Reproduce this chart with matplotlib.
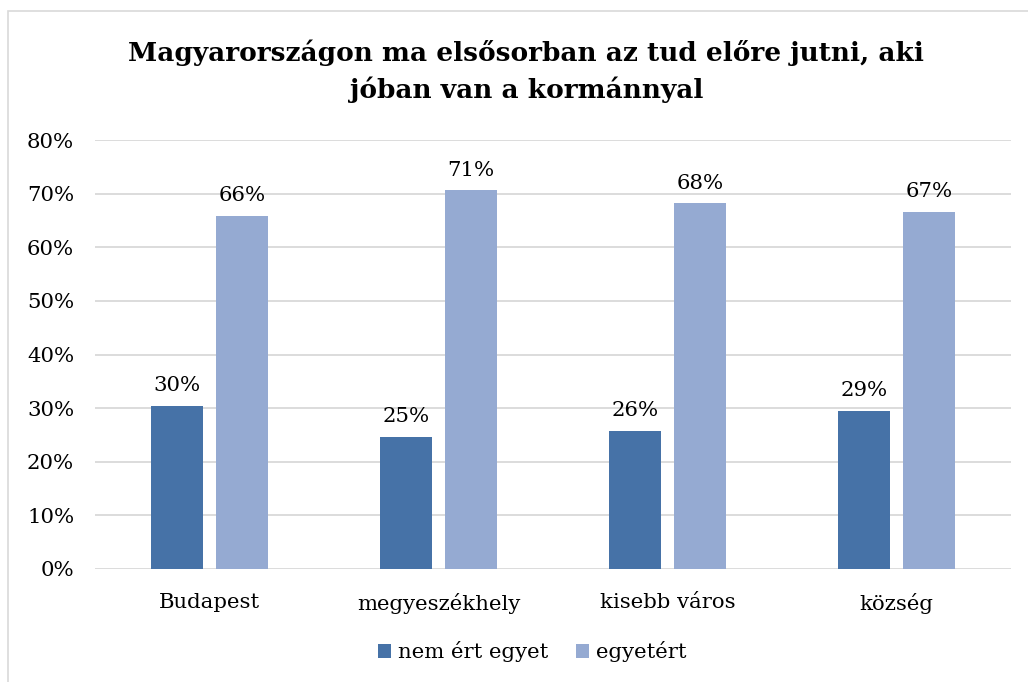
import matplotlib
matplotlib.use("Agg")
import matplotlib.pyplot as plt
from matplotlib.patches import Rectangle
import numpy as np

categories = ["Budapest", "megyeszékhely", "kisebb város", "község"]
nem_ert_egyet = [30.4, 24.7, 25.7, 29.5]
egyetert = [65.9, 70.6, 68.2, 66.6]
nem_labels = ["30%", "25%", "26%", "29%"]
egy_labels = ["66%", "71%", "68%", "67%"]
series_names = ["nem ért egyet", "egyetért"]
title = "Magyarországon ma elsősorban az tud előre jutni, aki\njóban van a kormánnyal"

c_dark = "#4672a7"
c_light = "#95aad2"

plt.rcParams['font.family'] = ['DejaVu Serif']
fs = 15.3

fig = plt.figure(figsize=(10.28, 6.82), dpi=100)
fig.patches.append(Rectangle((8/1028, -0.1), 1.2, 1 - 11/682 + 0.1, transform=fig.transFigure,
                             fill=False, edgecolor="#d9d9d9", linewidth=1.2))
ax = fig.add_axes([95/1028, 1 - 569/682, (1011 - 95)/1028, (569 - 140)/682])

x = np.arange(len(categories))
w = 0.223
off = 0.142
b1 = ax.bar(x - off, nem_ert_egyet, w, color=c_dark, label=series_names[0], zorder=3)
b2 = ax.bar(x + off, egyetert, w, color=c_light, label=series_names[1], zorder=3)

for rect, lab in zip(b1, nem_labels):
    ax.text(rect.get_x() + rect.get_width()/2, rect.get_height() + 2.0, lab,
            ha="center", va="bottom", fontsize=fs)
for rect, lab in zip(b2, egy_labels):
    ax.text(rect.get_x() + rect.get_width()/2, rect.get_height() + 2.0, lab,
            ha="center", va="bottom", fontsize=fs)

ax.set_xlim(-0.5, len(categories) - 0.5)
ax.set_ylim(0, 80)
ax.set_yticks(np.arange(0, 81, 10))
ax.set_yticklabels([f"{v}%" for v in range(0, 81, 10)], fontsize=fs)
ax.set_xticks(x)
ax.set_xticklabels(categories, fontsize=fs)
ax.tick_params(axis="both", length=0)
ax.tick_params(axis="y", pad=15)
ax.tick_params(axis="x", pad=17)
ax.grid(axis="y", color="#d9d9d9", linewidth=1.3, zorder=0)
for s in ax.spines.values():
    s.set_visible(False)

fig.text(0.512, 1 - 71/682, title, ha="center", va="center", fontsize=19,
         fontweight="bold", linespacing=1.5)

fig.legend(handles=[b1, b2], labels=series_names, loc="center", bbox_to_anchor=(0.518, 1 - 652/682),
           ncol=2, frameon=False, fontsize=fs, handlelength=0.6, handleheight=0.6,
           handletextpad=0.35, columnspacing=1.3)

fig.savefig("out.png", dpi=100)
